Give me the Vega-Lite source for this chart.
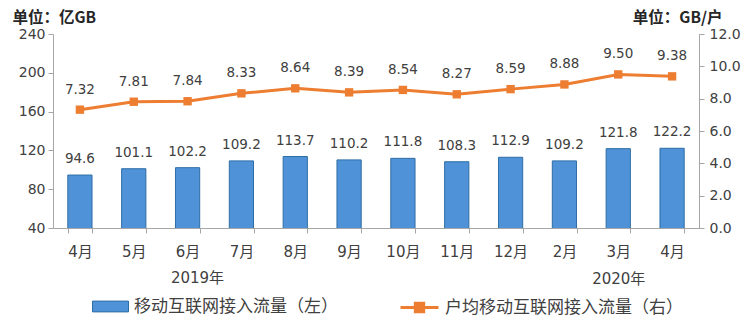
{
  "$schema": "https://vega.github.io/schema/vega-lite/v6.json",
  "width": 646,
  "height": 194,
  "autosize": {"type": "none"},
  "padding": {"left": 53, "top": 34, "right": 55, "bottom": 99},
  "background": "white",
  "config": {
    "font": "DejaVu Sans, Noto Sans CJK SC",
    "view": {"stroke": null},
    "axis": {
      "grid": false,
      "domainColor": "#a6a6a6",
      "tickColor": "#a6a6a6",
      "labelColor": "#404040",
      "labelFontSize": 14,
      "tickSize": 5,
      "titleColor": "#262626",
      "titleFont": "Noto Sans CJK SC",
      "titleFontSize": 15.5,
      "titleFontWeight": "bold"
    },
    "text": {"font": "DejaVu Sans", "fontSize": 13.5, "color": "#404040"}
  },
  "data": {
    "values": [
      {"period": "2019年4月", "traffic": 94.6, "perUser": 7.32, "s1": "移动互联网接入流量（左）", "s2": "户均移动互联网接入流量（右）"},
      {"period": "2019年5月", "traffic": 101.1, "perUser": 7.81, "s1": "移动互联网接入流量（左）", "s2": "户均移动互联网接入流量（右）"},
      {"period": "2019年6月", "traffic": 102.2, "perUser": 7.84, "s1": "移动互联网接入流量（左）", "s2": "户均移动互联网接入流量（右）"},
      {"period": "2019年7月", "traffic": 109.2, "perUser": 8.33, "s1": "移动互联网接入流量（左）", "s2": "户均移动互联网接入流量（右）"},
      {"period": "2019年8月", "traffic": 113.7, "perUser": 8.64, "s1": "移动互联网接入流量（左）", "s2": "户均移动互联网接入流量（右）"},
      {"period": "2019年9月", "traffic": 110.2, "perUser": 8.39, "s1": "移动互联网接入流量（左）", "s2": "户均移动互联网接入流量（右）"},
      {"period": "2019年10月", "traffic": 111.8, "perUser": 8.54, "s1": "移动互联网接入流量（左）", "s2": "户均移动互联网接入流量（右）"},
      {"period": "2019年11月", "traffic": 108.3, "perUser": 8.27, "s1": "移动互联网接入流量（左）", "s2": "户均移动互联网接入流量（右）"},
      {"period": "2019年12月", "traffic": 112.9, "perUser": 8.59, "s1": "移动互联网接入流量（左）", "s2": "户均移动互联网接入流量（右）"},
      {"period": "2020年2月", "traffic": 109.2, "perUser": 8.88, "s1": "移动互联网接入流量（左）", "s2": "户均移动互联网接入流量（右）"},
      {"period": "2020年3月", "traffic": 121.8, "perUser": 9.50, "s1": "移动互联网接入流量（左）", "s2": "户均移动互联网接入流量（右）"},
      {"period": "2020年4月", "traffic": 122.2, "perUser": 9.38, "s1": "移动互联网接入流量（左）", "s2": "户均移动互联网接入流量（右）"}
    ]
  },
  "encoding": {
    "x": {
      "field": "period",
      "type": "nominal",
      "sort": null,
      "scale": {"paddingInner": 0.55, "paddingOuter": 0.275},
      "axis": {
        "title": "2019年",
        "titleX": 144,
        "titleY": 49,
        "titleAlign": "center",
        "titleBaseline": "middle",
        "titleAnchor": null,
        "titleFont": "DejaVu Sans, Noto Sans CJK SC",
        "titleFontSize": 15,
        "titleFontWeight": "normal",
        "titleColor": "#404040",
        "labelAngle": 0,
        "tickBand": "extent",
        "labelFontSize": 15,
        "labelPadding": 11,
        "labelLineHeight": 27,
        "labelOverlap": false,
        "labelExpr": "!datum.value ? '' : datum.value == '2020年3月' ? ['3月', '2020年'] : substring(datum.value, 5)"
      }
    }
  },
  "layer": [
    {
      "encoding": {
        "y": {
          "field": "traffic",
          "type": "quantitative",
          "scale": {"domain": [40, 240], "zero": false, "nice": false},
          "axis": {
            "orient": "left",
            "values": [40, 80, 120, 160, 200, 240],
            "title": "单位：亿GB",
            "titleAngle": 0,
            "titleAlign": "left",
            "titleBaseline": "middle",
            "titleX": -41,
            "titleY": -17,
            "labelPadding": 3
          }
        }
      },
      "layer": [
        {
          "mark": {"type": "bar", "stroke": "#2e6da4", "strokeWidth": 1, "clip": true},
          "encoding": {
            "fill": {
              "field": "s1",
              "type": "nominal",
              "scale": {"range": ["#4f92d8"]},
              "legend": {
                "orient": "none",
                "legendX": 39,
                "legendY": 254,
                "title": null,
                "symbolType": "M-1,-0.3H1V0.3H-1Z",
                "symbolSize": 1296,
                "symbolStrokeColor": "#2e6da4",
                "symbolStrokeWidth": 1,
                "labelFont": "Noto Sans CJK SC",
                "labelFontSize": 17,
                "labelColor": "#404040",
                "labelOffset": 5,
                "labelLimit": 0
              }
            }
          }
        },
        {
          "mark": {"type": "text", "baseline": "bottom", "dy": -9},
          "encoding": {
            "text": {"field": "traffic", "type": "quantitative", "format": ".1f"}
          }
        }
      ]
    },
    {
      "encoding": {
        "y": {
          "field": "perUser",
          "type": "quantitative",
          "scale": {"domain": [0, 12], "nice": false},
          "axis": {
            "orient": "right",
            "values": [0, 2, 4, 6, 8, 10, 12],
            "format": ".1f",
            "title": "单位：GB/户",
            "titleAngle": 0,
            "titleAlign": "right",
            "titleBaseline": "middle",
            "titleX": 23,
            "titleY": -17,
            "labelPadding": 5
          }
        }
      },
      "layer": [
        {
          "mark": {"type": "line", "strokeWidth": 3},
          "encoding": {
            "stroke": {
              "field": "s2",
              "type": "nominal",
              "scale": {"range": ["#ed7d31"]},
              "legend": {
                "orient": "none",
                "legendX": 346,
                "legendY": 253,
                "title": null,
                "symbolType": "M-1,0H1M-0.22,-0.22H0.22V0.22H-0.22Z",
                "symbolSize": 1444,
                "symbolStrokeWidth": 3,
                "symbolFillColor": "#ed7d31",
                "labelFont": "Noto Sans CJK SC",
                "labelFontSize": 17,
                "labelColor": "#404040",
                "labelOffset": 5,
                "labelLimit": 0
              }
            }
          }
        },
        {
          "mark": {"type": "point", "shape": "square", "filled": true, "size": 70, "color": "#ed7d31", "opacity": 1}
        },
        {
          "mark": {"type": "text", "baseline": "bottom", "dy": -13},
          "encoding": {
            "text": {"field": "perUser", "type": "quantitative", "format": ".2f"}
          }
        }
      ]
    }
  ],
  "resolve": {"scale": {"y": "independent"}, "axis": {"y": "independent"}}
}
